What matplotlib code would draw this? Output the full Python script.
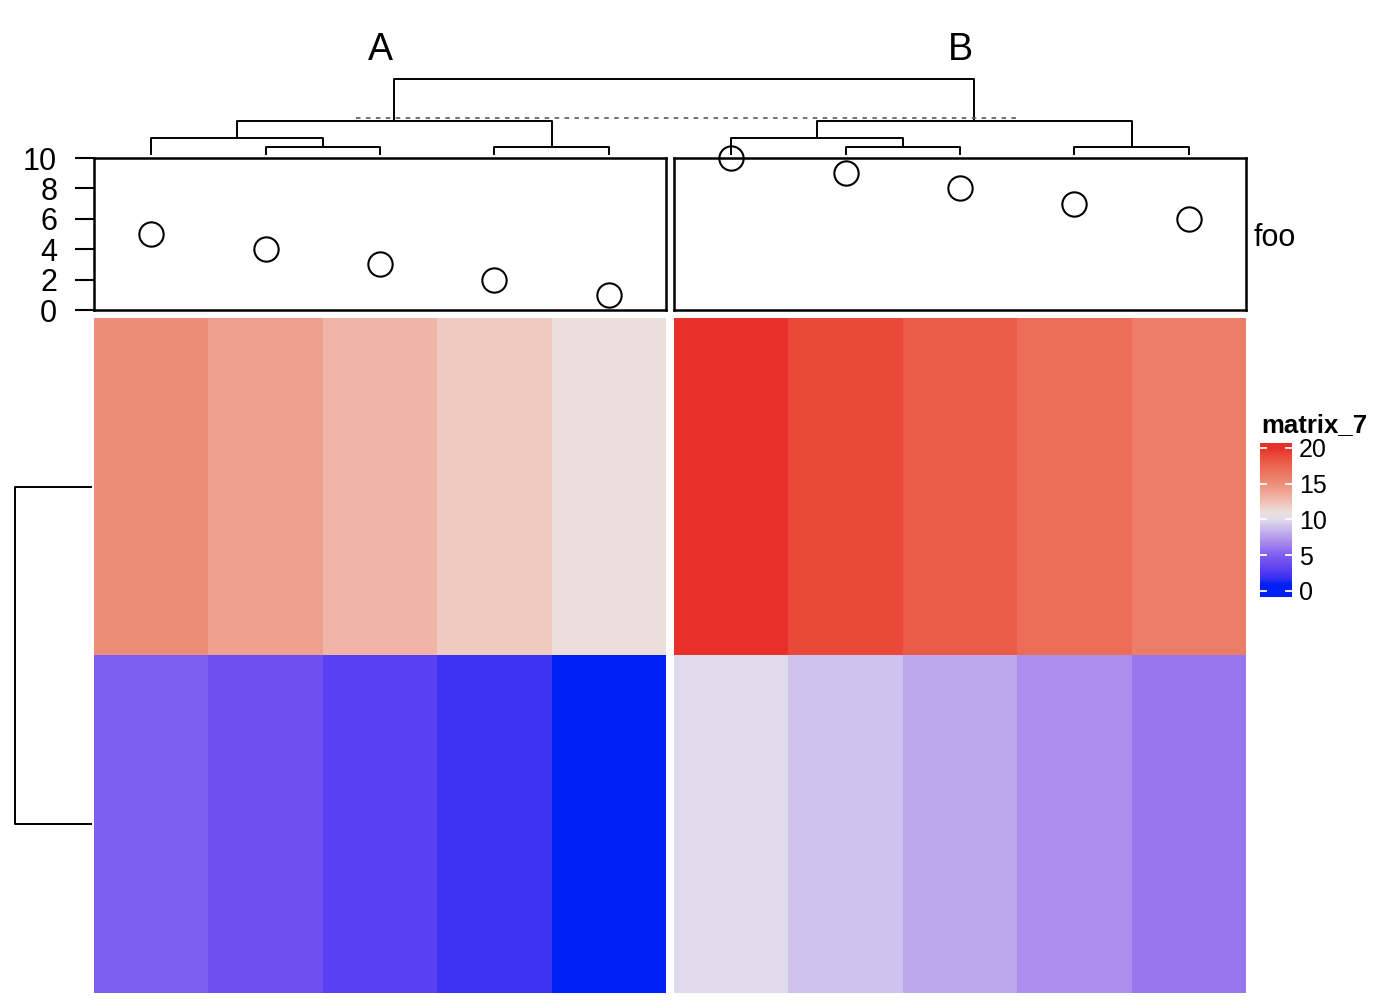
import numpy as np
import matplotlib
matplotlib.use("Agg")
import matplotlib.pyplot as plt
from matplotlib.colors import ListedColormap, Normalize, to_rgb

plt.rcParams['font.family'] = ['Liberation Sans', 'DejaVu Sans']

# ---------------- data ----------------
slice_titles = ["A", "B"]
foo_A = [5, 4, 3, 2, 1]
foo_B = [10, 9, 8, 7, 6]
row1_A = [15, 14, 13, 12, 11]
row1_B = [20, 19, 18, 17, 16]
row2_A = [5, 4, 3, 2, 1]
row2_B = [10, 9, 8, 7, 6]
legend_title = "matrix_7"
legend_ticks = [0, 5, 10, 15, 20]
axis_ticks = [0, 2, 4, 6, 8, 10]
# column dendrogram (linkage format: child_i, child_j, height) per slice
link_A = [[1, 2, 1.41], [3, 4, 1.41], [0, 5, 2.83], [7, 6, 5.66]]
link_B = [[1, 2, 1.41], [3, 4, 1.41], [0, 5, 2.83], [7, 6, 5.66]]
root_height = 12.73
cut_height = 6.2
row_dend_height = 31.6

# ---------------- colour ramp (LAB interpolation through anchors) ----------------
ramp_values = [1, 5, 10, 11, 13, 15, 20]
ramp_colors = ["#0022F5", "#7F5FEE", "#E0DCEC", "#EBE0DC", "#F1B6A8", "#EC8E78", "#E8302A"]
vmin, vmax = ramp_values[0], ramp_values[-1]

def srgb2lab(c):
    c = np.asarray(c, float)
    lin = np.where(c <= 0.04045, c / 12.92, ((c + 0.055) / 1.055) ** 2.4)
    M = np.array([[0.4124, 0.3576, 0.1805], [0.2126, 0.7152, 0.0722], [0.0193, 0.1192, 0.9505]])
    xyz = M @ lin / np.array([0.95047, 1.0, 1.08883])
    f = np.where(xyz > 0.008856, np.cbrt(xyz), 7.787 * xyz + 16 / 116)
    return np.array([116 * f[1] - 16, 500 * (f[0] - f[1]), 200 * (f[1] - f[2])])

def lab2srgb(lab):
    L, a, b = lab
    fy = (L + 16) / 116
    fx = fy + a / 500
    fz = fy - b / 200
    f = np.array([fx, fy, fz])
    xyz = np.where(f ** 3 > 0.008856, f ** 3, (f - 16 / 116) / 7.787) * np.array([0.95047, 1.0, 1.08883])
    Mi = np.array([[3.2406, -1.5372, -0.4986], [-0.9689, 1.8758, 0.0415], [0.0557, -0.2040, 1.0570]])
    lin = np.clip(Mi @ xyz, 0, 1)
    c = np.where(lin <= 0.0031308, 12.92 * lin, 1.055 * lin ** (1 / 2.4) - 0.055)
    return np.clip(c, 0, 1)

labs = np.array([srgb2lab(to_rgb(c)) for c in ramp_colors])
cols = []
for v in np.linspace(vmin, vmax, 512):
    lab = np.array([np.interp(v, ramp_values, labs[:, i]) for i in range(3)])
    cols.append(lab2srgb(lab))
cmap = ListedColormap(cols)
norm = Normalize(vmin=vmin, vmax=vmax, clip=True)

# ---------------- layout ----------------
W, H = 1386, 1008
fig = plt.figure(figsize=(W / 100, H / 100), dpi=100)

def ax_px(x0, y0, x1, y1):
    return fig.add_axes([x0 / W, 1 - y1 / H, (x1 - x0) / W, (y1 - y0) / H])

slices = [(94, 666), (674, 1246)]
mats = [np.array([row1_A, row2_A]), np.array([row1_B, row2_B])]
foos = [foo_A, foo_B]

for k, (x0, x1) in enumerate(slices):
    # heatmap body
    ax = ax_px(x0, 318, x1, 993)
    ax.imshow(mats[k], cmap=cmap, norm=norm, aspect='auto', interpolation='nearest',
              extent=(0, 5, 2, 0))
    ax.set_axis_off()
    # point annotation
    an = ax_px(x0, 158, x1, 310)
    an.plot(np.arange(5) + 0.5, foos[k], 'o', mfc='none', mec='black', ms=17.5, mew=1.5,
            clip_on=False, zorder=5)
    an.set_xlim(0, 5)
    an.set_ylim(0, 10)
    an.set_xticks([])
    for s in an.spines.values():
        s.set_linewidth(1.8)
    if k == 0:
        an.set_yticks(axis_ticks)
        an.set_yticklabels([str(t) for t in axis_ticks])
        an.tick_params(axis='y', direction='out', length=13.5, width=1.5, labelsize=22, pad=13)
    else:
        an.set_yticks([])
    # slice title
    fig.text(((x0 + x1) / 2) / W, 1 - 50 / H, slice_titles[k], fontsize=27,
             ha='center', va='center')

fig.text(1254 / W, 1 - 238 / H, "foo", fontsize=22, ha='left', va='center')

# ---------------- column dendrogram ----------------
gap = 8 / 114.4
dax = ax_px(94, 79, 1246, 155)
dax.set_xlim(0, 10 + gap)
dax.set_ylim(0, root_height)
dax.set_axis_off()
lkw = dict(color='black', lw=1.4, clip_on=False, solid_capstyle='butt')

def draw_tree(ax, link, offset):
    n = len(link) + 1
    pos = {i: offset + i + 0.5 for i in range(n)}
    hgt = {i: 0.0 for i in range(n)}
    for m, (a, b, h) in enumerate(link):
        xa, xb = pos[a], pos[b]
        ax.plot([xa, xa, xb, xb], [hgt[a], h, h, hgt[b]], **lkw)
        pos[n + m] = (xa + xb) / 2
        hgt[n + m] = h
    return pos[2 * n - 2], hgt[2 * n - 2]

xa, ha = draw_tree(dax, link_A, 0)
xb, hb = draw_tree(dax, link_B, 5 + gap)
dax.plot([xa, xa, xb, xb], [ha, root_height, root_height, hb], **lkw)
dax.plot([2.29, 8.0 + gap], [cut_height, cut_height], color='#666666', lw=1.3,
         ls=(0, (2.5, 3)), clip_on=False)

# ---------------- row dendrogram ----------------
rax = ax_px(15, 318, 92, 993)
rax.set_xlim(row_dend_height, 0)
rax.set_ylim(2, 0)
rax.set_axis_off()
rax.plot([0, row_dend_height, row_dend_height, 0], [0.5, 0.5, 1.5, 1.5], **lkw)

# ---------------- legend ----------------
fig.text(1261 / W, 1 - 425 / H, legend_title, fontsize=18.5, fontweight='bold',
         ha='left', va='center')
lax = ax_px(1260, 443, 1292, 597)
lo, hi = -0.84, 20.66
grad = np.linspace(lo, hi, 300)[:, None]
lax.imshow(grad, cmap=cmap, norm=norm, aspect='auto', origin='lower',
           extent=(0, 1, lo, hi), interpolation='bilinear')
lax.set_xlim(0, 1)
lax.set_ylim(lo, hi)
for t in legend_ticks:
    lax.plot([0, 0.19], [t, t], color='white', lw=1.3)
    lax.plot([0.81, 1], [t, t], color='white', lw=1.3)
for s in lax.spines.values():
    s.set_visible(False)
lax.set_xticks([])
lax.yaxis.tick_right()
lax.set_yticks(legend_ticks)
lax.set_yticklabels([str(t) for t in legend_ticks])
lax.tick_params(axis='y', length=0, labelsize=18, pad=5)

fig.savefig("out.png", dpi=100, facecolor='white')
